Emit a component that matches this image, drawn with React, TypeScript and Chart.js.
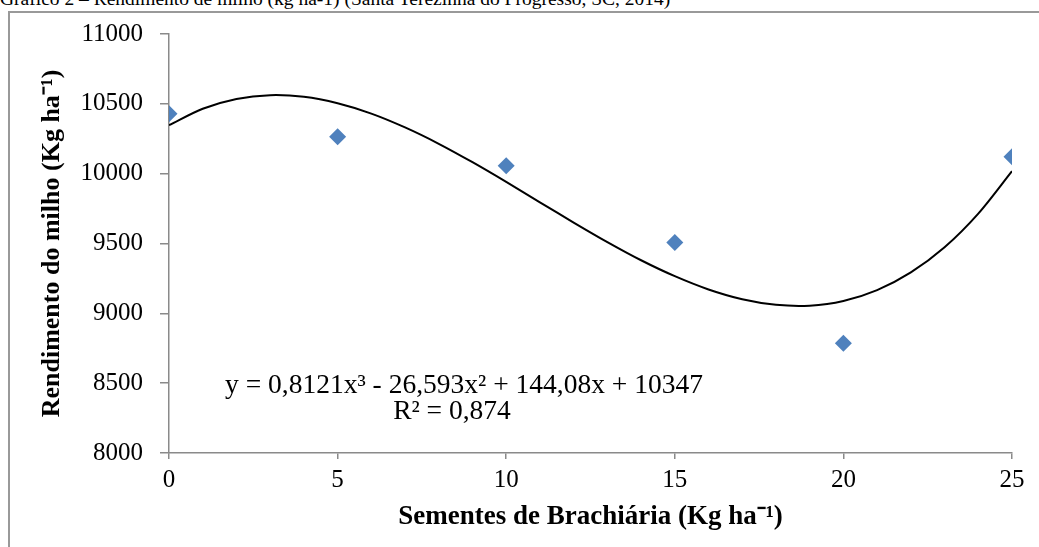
import React, { useEffect, useRef } from "react";
import { Chart, registerables } from "chart.js";

Chart.register(...registerables);

const seedRates = [0, 5, 10, 15, 20, 25];
const yieldValues = [10429, 10264, 10057, 9507, 8786, 10121];

const trendX = [0, 1, 2, 3, 4, 5, 6, 7, 8, 9, 10, 11, 12, 13, 14, 15, 16, 17, 18, 19, 20, 21, 22, 23, 24, 25];
const trendY = [
  10347, 10465, 10535, 10562, 10550, 10504, 10430, 10331, 10214, 10082, 9941, 9795, 9650, 9510,
  9380, 9266, 9171, 9101, 9061, 9055, 9088, 9166, 9293, 9473, 9714, 10018,
];

const yTicks = [8000, 8500, 9000, 9500, 10000, 10500, 11000];
const xTicks = [0, 5, 10, 15, 20, 25];

const equationLines = ["y = 0,8121x³ - 26,593x² + 144,08x + 10347", "R² = 0,874"];
const pageTitle = "Gráfico 2 – Rendimento de milho (kg ha-1) (Santa Terezinha do Progresso, SC, 2014)";

const SERIF = '"Liberation Serif", "Times New Roman", serif';
const AXIS_GRAY = "#8a8a8a";

export default function App() {
  const canvasRef = useRef<HTMLCanvasElement | null>(null);

  useEffect(() => {
    const canvas = canvasRef.current;
    if (!canvas) return;

    const equationPlugin = {
      id: "equationText",
      afterDatasetsDraw(chart: any) {
        const ctx = chart.ctx;
        ctx.save();
        ctx.fillStyle = "#000";
        ctx.font = `27.5px ${SERIF}`;
        ctx.textAlign = "center";
        ctx.textBaseline = "middle";
        ctx.fillText(equationLines[0], 464, 386);
        ctx.fillText(equationLines[1], 452, 412);
        ctx.restore();
      },
    };

    const chart = new Chart(canvas, {
      type: "scatter",
      data: {
        datasets: [
          {
            label: "Rendimento",
            data: seedRates.map((x, i) => ({ x, y: yieldValues[i] })),
            pointStyle: "rectRot",
            pointRadius: 8.5,
            pointHoverRadius: 8.5,
            backgroundColor: "#4F81BD",
            borderColor: "#4F81BD",
            borderWidth: 0,
            showLine: false,
            order: 1,
          },
          {
            label: "Tendência",
            data: trendX.map((x, i) => ({ x, y: trendY[i] })),
            showLine: true,
            pointRadius: 0,
            borderColor: "#000",
            borderWidth: 2,
            tension: 0.3,
            fill: false,
            order: 2,
          },
        ],
      },
      options: {
        responsive: false,
        animation: false,
        devicePixelRatio: 1,
        layout: { padding: { left: 0, top: 34, right: 27, bottom: 0 } },
        plugins: {
          legend: { display: false },
          tooltip: { enabled: false },
          title: { display: false },
        },
        scales: {
          x: {
            type: "linear",
            min: 0,
            max: 25,
            afterFit(scale: any) {
              scale.height = 94;
            },
            afterBuildTicks(scale: any) {
              scale.ticks = xTicks.map((v) => ({ value: v }));
            },
            ticks: {
              color: "#000",
              font: { family: SERIF, size: 25 },
              padding: 6,
              maxRotation: 0,
              callback: (v: any) => String(v),
            },
            grid: {
              display: true,
              drawOnChartArea: false,
              drawTicks: true,
              tickLength: 6,
              color: AXIS_GRAY,
              lineWidth: 1.5,
            },
            border: { display: true, color: AXIS_GRAY, width: 1.5 },
            title: {
              display: true,
              text: "Sementes de Brachiária (Kg ha⁻¹)",
              color: "#000",
              font: { family: SERIF, size: 27, weight: "bold" },
              padding: { top: 0, bottom: 14 },
            },
          },
          y: {
            type: "linear",
            min: 8000,
            max: 11000,
            afterFit(scale: any) {
              scale.width = 169;
            },
            afterBuildTicks(scale: any) {
              scale.ticks = yTicks.map((v) => ({ value: v }));
            },
            ticks: {
              color: "#000",
              font: { family: SERIF, size: 25 },
              padding: 17,
              callback: (v: any) => String(v),
            },
            grid: {
              display: true,
              drawOnChartArea: false,
              drawTicks: true,
              tickLength: 9,
              color: AXIS_GRAY,
              lineWidth: 1.5,
            },
            border: { display: true, color: AXIS_GRAY, width: 1.5 },
            title: {
              display: true,
              text: "Rendimento do milho (Kg ha⁻¹)",
              color: "#000",
              font: { family: SERIF, size: 26, weight: "bold" },
              padding: { top: 37, bottom: 0 },
            },
          },
        },
      },
      plugins: [equationPlugin],
    });

    return () => {
      chart.destroy();
    };
  }, []);

  return (
    <div
      style={{
        position: "fixed",
        left: 0,
        top: 0,
        width: 1039,
        height: 547,
        overflow: "hidden",
        background: "#fff",
      }}
    >
      <div
        style={{
          position: "absolute",
          left: 0,
          top: -11,
          fontFamily: SERIF,
          fontSize: 19.5,
          lineHeight: "19.5px",
          whiteSpace: "nowrap",
          color: "#000",
        }}
      >
        {pageTitle}
      </div>
      <div
        style={{
          position: "absolute",
          left: 8,
          top: 11,
          width: 1200,
          height: 700,
          border: `2px solid #999`,
          boxSizing: "border-box",
        }}
      />
      <canvas
        ref={canvasRef}
        width={1039}
        height={547}
        style={{ position: "absolute", left: 0, top: 0, width: 1039, height: 547 }}
      />
    </div>
  );
}
